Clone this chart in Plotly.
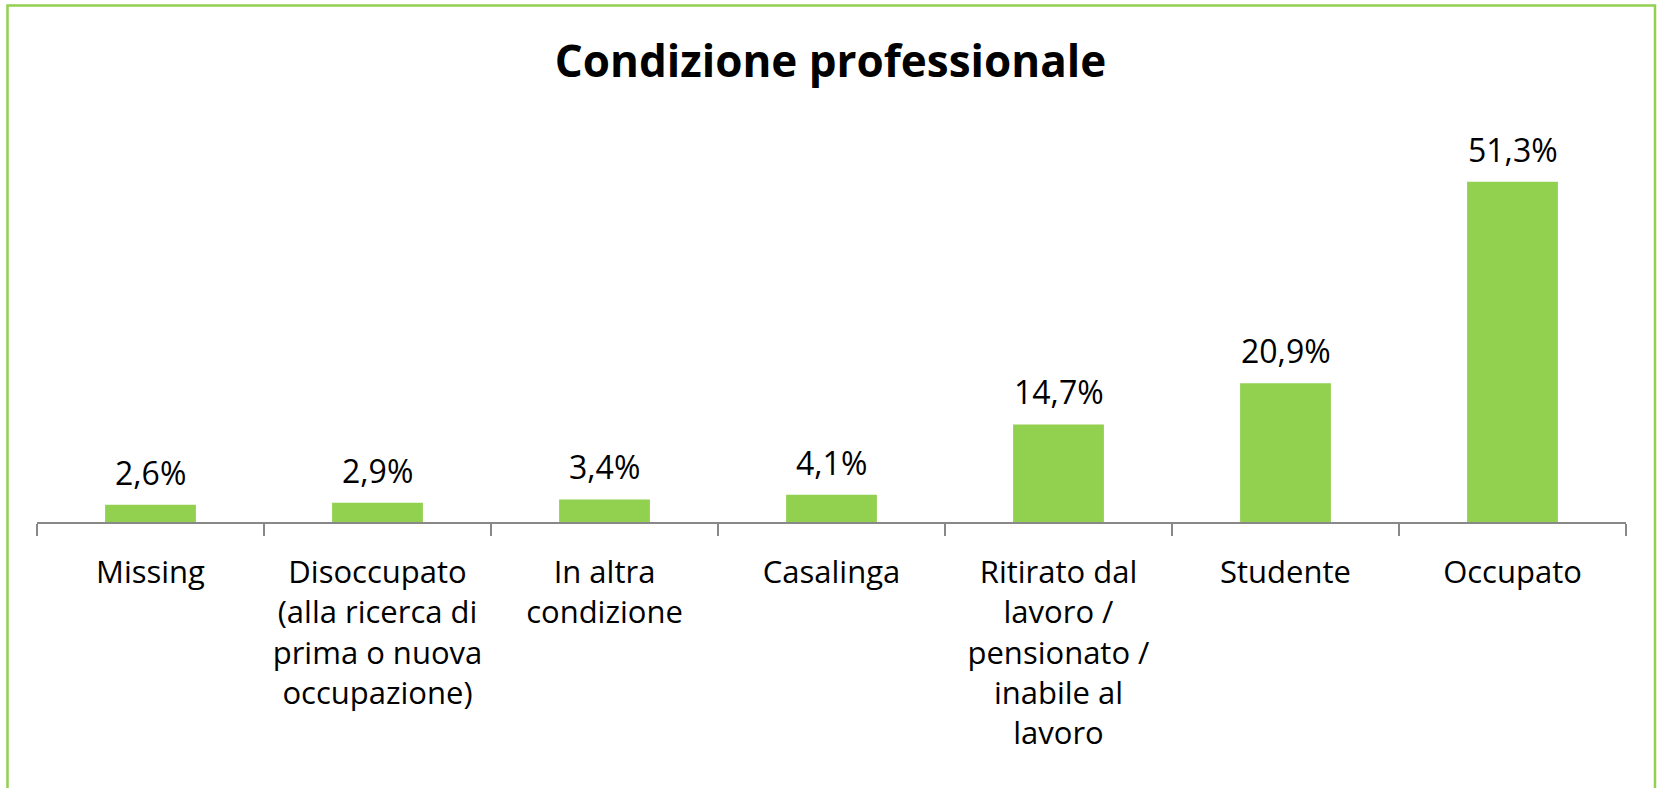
import plotly.graph_objects as go

categories = [
    "Missing",
    "Disoccupato<br>(alla ricerca di<br>prima o nuova<br>occupazione)",
    "In altra<br>condizione",
    "Casalinga",
    "Ritirato dal<br>lavoro /<br>pensionato /<br>inabile al<br>lavoro",
    "Studente",
    "Occupato",
]
values = [2.6, 2.9, 3.4, 4.1, 14.7, 20.9, 51.3]
title_text = "Condizione professionale"

GREEN = "#92D050"
FONT = "Open Sans"
W, H = 1661, 788
L, R, T, B = 37, 35, 124.3, 266

plot_w = W - L - R
plot_h = H - T - B


def px_x(p):
    return (p - L) / plot_w


def px_y(p):
    return (H - B - p) / plot_h


fig = go.Figure(
    go.Bar(
        x=categories,
        y=values,
        marker=dict(color=GREEN, line=dict(width=0)),
        width=0.4,
        hoverinfo="x+y",
    )
)

for c, v in zip(categories, values):
    fig.add_annotation(
        x=c,
        y=v,
        xref="x",
        yref="y",
        text=f"{v:.1f}".replace(".", ",") + "%",
        showarrow=False,
        yanchor="bottom",
        yshift=9,
        font=dict(family=FONT, size=32, color="black"),
    )

fig.update_layout(
    width=W,
    height=H,
    margin=dict(l=L, r=R, t=T, b=B, pad=0),
    paper_bgcolor="white",
    plot_bgcolor="white",
    separators=",.",
    showlegend=False,
    title=dict(
        text="<b>" + title_text + "</b>",
        x=0.5,
        xanchor="center",
        xref="container",
        y=1 - 62 / H,
        yanchor="middle",
        yref="container",
        font=dict(family=FONT, size=44, color="black"),
    ),
    font=dict(family=FONT, size=31, color="black"),
    xaxis=dict(
        showline=True,
        linecolor="#888888",
        linewidth=1.5,
        ticks="outside",
        tickson="boundaries",
        ticklen=12,
        tickwidth=1.5,
        tickcolor="#888888",
        tickfont=dict(family=FONT, size=31, color="black"),
        ticklabelstandoff=22,
        showgrid=False,
        zeroline=False,
        tickangle=0,
    ),
    yaxis=dict(
        range=[0, 60],
        visible=False,
        showgrid=False,
        zeroline=False,
    ),
    shapes=[
        dict(
            type="rect",
            xref="paper",
            yref="paper",
            x0=px_x(7.5),
            x1=px_x(1655),
            y0=px_y(6),
            y1=px_y(830),
            line=dict(color=GREEN, width=2.5),
            fillcolor="rgba(0,0,0,0)",
            layer="above",
        )
    ],
)

fig.write_html(
    "out.html",
    config={"displayModeBar": False},
    post_script="document.body.style.margin='0';document.body.style.overflow='hidden';",
)
